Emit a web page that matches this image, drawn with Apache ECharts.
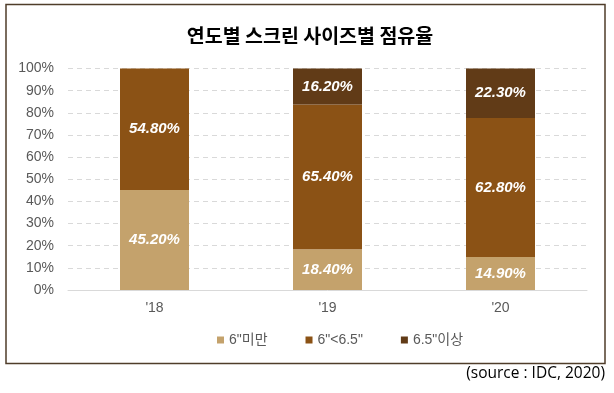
<!DOCTYPE html>
<html>
<head>
<meta charset="utf-8">
<script src="https://cdn.jsdelivr.net/npm/echarts@6/dist/echarts.min.js"></script>
<style>html,body{margin:0;padding:0;background:#fff}#c{width:614px;height:393px}</style>
</head>
<body>
<div id="c"></div>
<script>
const categories = ["'18", "'19", "'20"];
const seriesNames = ['6"미만', '6"<6.5"', '6.5"이상'];
const under6 = [45.2, 18.4, 14.9];
const mid = [54.8, 65.4, 62.8];
const over65 = [0, 16.2, 22.3];
const yTicks = [0, 10, 20, 30, 40, 50, 60, 70, 80, 90, 100];
const colors = ['#C4A26C', '#8B5215', '#613B17'];

const latin = 'Liberation Sans, Arial, "Noto Sans CJK KR", sans-serif';
const chart = echarts.init(document.getElementById('c'), null, {renderer: 'canvas'});

function mkSeries(name, data, color) {
  return {
    name: name, type: 'bar', stack: 'total', data: data, barWidth: 69,
    itemStyle: {color: color},
    label: {
      show: true, position: 'inside', color: '#fff', fontStyle: 'italic', fontWeight: 'bold',
      fontSize: 15, fontFamily: latin,
      formatter: p => p.value > 0 ? p.value.toFixed(2) + '%' : ''
    }
  };
}

chart.setOption({
  animation: false,
  title: {
    text: '연도별 스크린 사이즈별 점유율', left: 305, top: 21, textAlign: 'center',
    textStyle: {fontFamily: '"Noto Sans CJK KR", sans-serif', fontWeight: 'bold', fontSize: 19.5, color: '#000'}
  },
  legend: {
    data: seriesNames, left: 217, top: 333, padding: 0, itemGap: 38,
    itemWidth: 7, itemHeight: 7, icon: 'rect',
    textStyle: {fontFamily: latin, fontSize: 14, color: '#595959'}
  },
  grid: {left: 68, right: 27, top: 68.5, bottom: 103, containLabel: false},
  xAxis: {
    type: 'category', data: categories,
    axisLine: {lineStyle: {color: '#D9D9D9'}}, axisTick: {show: false},
    axisLabel: {color: '#595959', fontSize: 14, fontFamily: latin, margin: 11}
  },
  yAxis: {
    type: 'value', min: 0, max: 100, interval: 10,
    axisLine: {show: false}, axisTick: {show: false},
    axisLabel: {color: '#595959', fontSize: 14, fontFamily: latin, margin: 14, formatter: v => v + '%'},
    splitLine: {lineStyle: {color: '#D9D9D9', type: [5, 4]}}
  },
  series: [
    mkSeries(seriesNames[0], under6, colors[0]),
    mkSeries(seriesNames[1], mid, colors[1]),
    mkSeries(seriesNames[2], over65, colors[2])
  ],
  graphic: [
    {type: 'rect', shape: {x: 6, y: 4.5, width: 599, height: 359}, style: {fill: 'none', stroke: '#4F3D2A', lineWidth: 1.5}, z: -1},
    {type: 'text', right: 9, top: 366, style: {text: '(source : IDC, 2020)', fill: '#000', font: '15.5px "Open Sans", sans-serif'}}
  ]
});
</script>
</body>
</html>
